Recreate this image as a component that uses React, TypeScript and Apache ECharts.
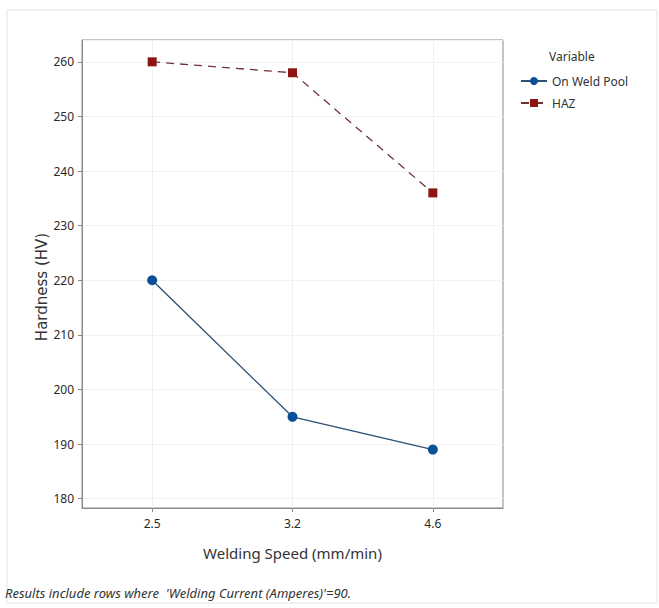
import React, { useEffect, useRef } from "react";
import * as echarts from "echarts";

const categories = ["2.5", "3.2", "4.6"];
const weldPool = [220, 195, 189];
const haz = [260, 258, 236];
const seriesNames = ["On Weld Pool", "HAZ"];

const FONT = "'Noto Sans', 'Open Sans', sans-serif";

export default function App() {
  const ref = useRef<HTMLDivElement>(null);
  useEffect(() => {
    if (!ref.current) return;
    const chart = echarts.init(ref.current, null, { renderer: "svg" });
    chart.setOption({
      animation: false,
      backgroundColor: "#ffffff",
      textStyle: { fontFamily: FONT },
      grid: {
        left: 82,
        top: 40,
        right: 156,
        bottom: 100,
        show: true,
        borderColor: "#8a8a8a",
        borderWidth: 1,
        backgroundColor: "transparent",
      },
      legend: {
        left: 515,
        top: 70,
        orient: "vertical",
        itemWidth: 26,
        itemHeight: 10,
        itemGap: 10,
        textStyle: { fontFamily: FONT, fontSize: 12, color: "#333" },
        data: seriesNames,
      },
      xAxis: {
        type: "category",
        data: categories,
        boundaryGap: true,
        name: "Welding Speed (mm/min)",
        nameLocation: "middle",
        nameGap: 37,
        nameTextStyle: { fontFamily: FONT, fontSize: 15, color: "#333" },
        axisLine: { show: true, lineStyle: { color: "#8a8a8a" } },
        axisTick: { show: true, alignWithLabel: true, length: 4, lineStyle: { color: "#8a8a8a" } },
        axisLabel: { margin: 9, fontSize: 12, color: "#2a2a2a", fontFamily: FONT },
        splitLine: { show: true, alignWithLabel: true, lineStyle: { color: "#f1f1f1", width: 1 } },
      },
      yAxis: {
        type: "value",
        min: 178.3,
        max: 264,
        splitNumber: 8,
        name: "Hardness (HV)",
        nameLocation: "middle",
        nameGap: 33,
        nameMoveOverlap: false,
        nameTextStyle: {
          fontFamily: "'DejaVu Sans', sans-serif",
          fontSize: 15,
          color: "#333",
          padding: [0, 26, 0, 0],
        },
        axisLine: { show: true, lineStyle: { color: "#8a8a8a" } },
        axisTick: { show: true, length: 4, lineStyle: { color: "#8a8a8a" } },
        axisLabel: {
          margin: 8,
          fontSize: 12,
          color: "#2a2a2a",
          fontFamily: FONT,
          showMinLabel: false,
          showMaxLabel: false,
        },
        splitLine: { show: true, lineStyle: { color: "#f1f1f1", width: 1 } },
      },
      graphic: [
        {
          type: "rect",
          shape: { x: 7, y: 10, width: 650, height: 593 },
          style: { fill: "none", stroke: "#e4e4e4", lineWidth: 1 },
          silent: true,
          z: -10,
        },
        {
          type: "text",
          left: 549,
          top: 50,
          style: { text: "Variable", font: `12px ${FONT}`, fill: "#333" },
        },
        {
          type: "text",
          left: 5,
          top: 586,
          style: {
            text: "Results include rows where  'Welding Current (Amperes)'=90.",
            font: `italic 13px ${FONT}`,
            fill: "#333",
          },
        },
      ],
      series: [
        {
          name: seriesNames[0],
          type: "line",
          data: weldPool,
          symbol: "circle",
          symbolSize: 10,
          itemStyle: { color: "#0b4f96" },
          lineStyle: { color: "#2c4f73", width: 1.3, type: "solid" },
        },
        {
          name: seriesNames[1],
          type: "line",
          data: haz,
          symbol: "rect",
          symbolSize: 9,
          itemStyle: { color: "#8e1414" },
          lineStyle: { color: "#6e3434", width: 1.3, type: [8, 6] },
        },
      ],
    });
    return () => chart.dispose();
  }, []);
  return <div ref={ref} style={{ width: 659, height: 608, position: "absolute", left: 0, top: 0 }} />;
}
